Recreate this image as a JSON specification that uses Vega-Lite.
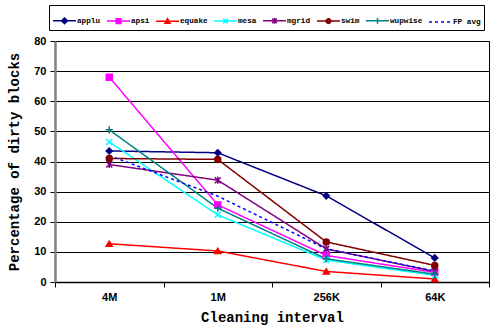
{
  "$schema": "https://vega.github.io/schema/vega-lite/v6.json",
  "width": 434,
  "height": 241,
  "autosize": {"type": "none"},
  "padding": {"left": 55, "top": 41, "right": 3, "bottom": 52},
  "background": "white",
  "config": {
    "view": {"stroke": "black", "strokeWidth": 1},
    "axis": {"titleFont": "Liberation Mono", "titleFontWeight": "bold", "titleFontSize": 14, "titleColor": "black", "labelFont": "Liberation Sans", "labelFontWeight": "bold", "labelFontSize": 11, "labelColor": "black"}
  },
  "data": {"values": [
    {"series": "applu", "interval": "4M", "pct": 43.5},
    {"series": "applu", "interval": "1M", "pct": 42.9},
    {"series": "applu", "interval": "256K", "pct": 28.6},
    {"series": "applu", "interval": "64K", "pct": 8.0},
    {"series": "apsi", "interval": "4M", "pct": 68.0},
    {"series": "apsi", "interval": "1M", "pct": 25.6},
    {"series": "apsi", "interval": "256K", "pct": 8.8},
    {"series": "apsi", "interval": "64K", "pct": 3.2},
    {"series": "equake", "interval": "4M", "pct": 12.7},
    {"series": "equake", "interval": "1M", "pct": 10.3},
    {"series": "equake", "interval": "256K", "pct": 3.5},
    {"series": "equake", "interval": "64K", "pct": 1.0},
    {"series": "mesa", "interval": "4M", "pct": 46.5},
    {"series": "mesa", "interval": "1M", "pct": 22.3},
    {"series": "mesa", "interval": "256K", "pct": 7.3},
    {"series": "mesa", "interval": "64K", "pct": 2.2},
    {"series": "mgrid", "interval": "4M", "pct": 39.0},
    {"series": "mgrid", "interval": "1M", "pct": 33.8},
    {"series": "mgrid", "interval": "256K", "pct": 11.0},
    {"series": "mgrid", "interval": "64K", "pct": 3.5},
    {"series": "swim", "interval": "4M", "pct": 41.0},
    {"series": "swim", "interval": "1M", "pct": 40.7},
    {"series": "swim", "interval": "256K", "pct": 13.3},
    {"series": "swim", "interval": "64K", "pct": 5.5},
    {"series": "wupwise", "interval": "4M", "pct": 50.5},
    {"series": "wupwise", "interval": "1M", "pct": 24.5},
    {"series": "wupwise", "interval": "256K", "pct": 7.7},
    {"series": "wupwise", "interval": "64K", "pct": 2.6},
    {"series": "FP avg", "interval": "4M", "pct": 42.0},
    {"series": "FP avg", "interval": "1M", "pct": 28.5},
    {"series": "FP avg", "interval": "256K", "pct": 11.0},
    {"series": "FP avg", "interval": "64K", "pct": 3.6}
  ]},
  "encoding": {
    "x": {"field": "interval", "type": "nominal", "sort": ["4M", "1M", "256K", "64K"], "scale": {"paddingInner": 0, "paddingOuter": 0},
      "axis": {"title": "Cleaning interval", "labelAngle": 0, "tickBand": "extent", "domainColor": "black", "domainWidth": 1.5, "tickColor": "black", "tickSize": 5, "labelPadding": 4, "titlePadding": 8}},
    "y": {"field": "pct", "type": "quantitative", "scale": {"domain": [0, 80]},
      "axis": {"title": "Percentage of dirty blocks", "values": [0,10,20,30,40,50,60,70,80], "gridColor": "black", "gridOpacity": 1, "gridWidth": 1, "domainColor": "#808080", "domainWidth": 2.5, "tickColor": "black", "tickSize": 5, "labelPadding": 4, "titlePadding": 12}},
    "color": {"field": "series", "type": "nominal",
      "scale": {"domain": ["applu", "apsi", "equake", "mesa", "mgrid", "swim", "wupwise", "FP avg"],
                "range": ["#000080", "#FF00FF", "#FF0000", "#00FFFF", "#800080", "#800000", "#008080", "#0000FF"]},
      "legend": {"title": null, "orient": "none", "legendX": -6, "legendY": -36, "direction": "horizontal", "columns": 8,
        "strokeColor": "black", "padding": 3, "columnPadding": 3, "symbolSize": 529, "symbolStrokeWidth": 1.5,
        "labelFont": "Liberation Mono", "labelFontSize": 7.7, "labelFontWeight": "bold", "labelColor": "black", "labelOffset": 0,
        "encode": {"symbols": {"update": {
          "shape": {"signal": "datum.value==='applu' ? 'M-1,0H1M0,-0.25L0.25,0L0,0.25L-0.25,0Z' : datum.value==='apsi' ? 'M-1,0H1M-0.2,-0.2H0.2V0.2H-0.2Z' : datum.value==='equake' ? 'M-1,0H1M0,-0.22L0.22,0.18H-0.22Z' : datum.value==='mesa' ? 'M-1,0H1M-0.2,-0.2L0.2,0.2M-0.2,0.2L0.2,-0.2' : datum.value==='mgrid' ? 'M-1,0H1M-0.2,-0.2L0.2,0.2M-0.2,0.2L0.2,-0.2M0,-0.25V0.25' : datum.value==='swim' ? 'M-1,0H1M0.2,0A0.2,0.2 0 1 1 -0.2,0A0.2,0.2 0 1 1 0.2,0Z' : datum.value==='wupwise' ? 'M-1,0H1M0,-0.25V0.25M-0.2,0H0.2' : 'M-1,0H1'"},
          "fill": {"signal": "datum.value==='FP avg' ? 'transparent' : scale('color', datum.value)"},
          "stroke": {"signal": "scale('color', datum.value)"},
          "strokeDash": {"signal": "datum.value==='FP avg' ? [3,3] : [1,0]"},
          "strokeWidth": {"value": 1.5}
        }}}
      }}
  },
  "layer": [
    {
      "mark": {"type": "line", "strokeWidth": 1.5},
      "encoding": {
        "strokeDash": {"field": "series", "type": "nominal", "legend": null,
          "scale": {"domain": ["applu", "apsi", "equake", "mesa", "mgrid", "swim", "wupwise", "FP avg"],
                    "range": [[1,0],[1,0],[1,0],[1,0],[1,0],[1,0],[1,0],[3,3]]}}
      }
    },
    {
      "transform": [{"filter": "datum.series !== 'FP avg'"}],
      "mark": {"type": "point", "filled": true, "size": 36, "strokeWidth": 1.5, "opacity": 1},
      "encoding": {
        "shape": {"field": "series", "type": "nominal", "legend": null,
          "scale": {"domain": ["applu", "apsi", "equake", "mesa", "mgrid", "swim", "wupwise"],
                    "range": ["diamond", "square", "triangle-up", "M-1,-1L1,1M-1,1L1,-1", "M-1,-1L1,1M-1,1L1,-1M0,-1.2V1.2", "circle", "M-1.2,0H1.2M0,-1.2V1.2"]}},
        "stroke": {"field": "series", "type": "nominal", "legend": null,
          "scale": {"domain": ["applu", "apsi", "equake", "mesa", "mgrid", "swim", "wupwise", "FP avg"],
                "range": ["#000080", "#FF00FF", "#FF0000", "#00FFFF", "#800080", "#800000", "#008080", "#0000FF"]}}
      }
    }
  ]
}
